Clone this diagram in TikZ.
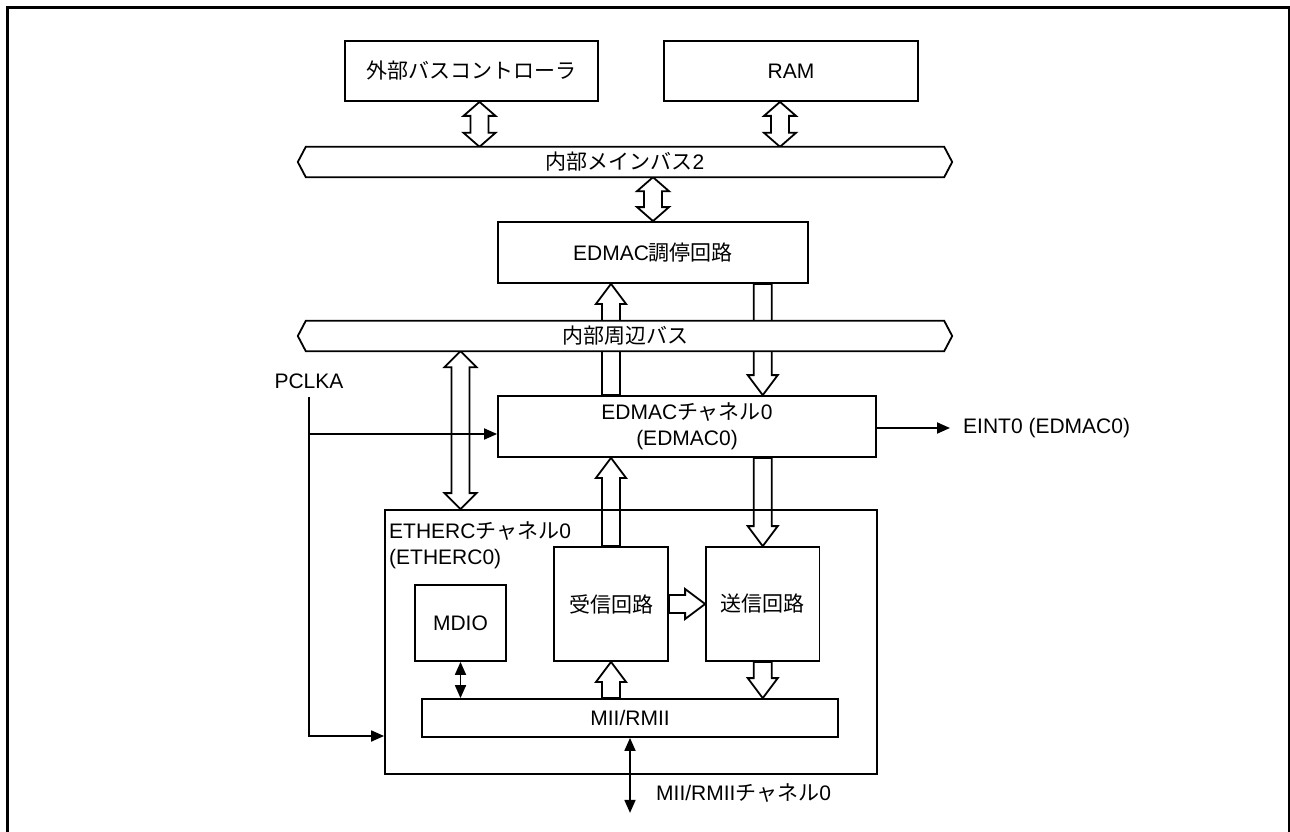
\documentclass[tikz,border=0pt]{standalone}
\usepackage{fontspec}
\setmainfont{Liberation Sans}
\newfontfamily\cjk{Noto Sans CJK JP}
\usetikzlibrary{arrows.meta,calc}
\pgfdeclarelayer{arr}
\pgfdeclarelayer{busbg}
\pgfsetlayers{arr,busbg,main}
\newcommand\HollowV[2]{% tail, tip
 \draw[hol] let \p1=(#1), \p2=(#2), \n1={ifthenelse(\y2>\y1,1,-1)} in
 (\x2,\y2) -- (\x2+15pt,\y2-\n1*20pt) -- (\x2+9pt,\y2-\n1*20pt) -- (\x2+9pt,\y1)
 -- (\x2-9pt,\y1) -- (\x2-9pt,\y2-\n1*20pt) -- (\x2-15pt,\y2-\n1*20pt) -- cycle;}
\newcommand\HollowD[3]{% end, end, head length
 \draw[hol] let \p1=(#1), \p2=(#2), \n1={ifthenelse(\y2>\y1,1,-1)}, \n2={#3} in
 (\x2,\y2) -- (\x2+16pt,\y2-\n1*\n2) -- (\x2+9pt,\y2-\n1*\n2) -- (\x2+9pt,\y1+\n1*\n2)
 -- (\x2+16pt,\y1+\n1*\n2) -- (\x2,\y1) -- (\x2-16pt,\y1+\n1*\n2) -- (\x2-9pt,\y1+\n1*\n2)
 -- (\x2-9pt,\y2-\n1*\n2) -- (\x2-16pt,\y2-\n1*\n2) -- cycle;}
\begin{document}
\begin{tikzpicture}[x=1pt,y=-1pt,
  font=\fontsize{21}{26}\selectfont,
  box/.style={draw, line width=1.8pt, inner sep=0pt, align=center},
  txt/.style={inner sep=0pt, align=center},
  hol/.style={draw, line width=1.8pt, fill=white, line join=miter},
  ln/.style={line width=1.8pt},
  tip/.style={-{Triangle[length=13pt,width=11pt]}},
  dtip/.style={{Triangle[length=13pt,width=11pt]}-{Triangle[length=13pt,width=11pt]}},
  busline/.style={draw, line width=1.8pt, fill=white}]
\useasboundingbox (0,0) rectangle (1290,832);
\draw[line width=3pt] (7,8) rectangle (1289.5,900);

% blocks
\node[box, minimum width=253, minimum height=60] (ext) at (471.5,71) {\cjk 外部バスコントローラ};
\node[box, minimum width=254, minimum height=60] (ram) at (791,71) {RAM};
\node[txt, minimum width=654, minimum height=30] (bus1) at (625,162) {{\cjk 内部メインバス}2};
\node[box, minimum width=310, minimum height=61] (arb) at (653,252.5) {EDMAC{\cjk 調停回路}};
\node[txt, minimum width=654, minimum height=30] (bus2) at (625,336) {\cjk 内部周辺バス};
\node[box, minimum width=378, minimum height=61] (edmac) at (687,426.5) {EDMAC{\cjk チャネル}0\\(EDMAC0)};
\node[box, minimum width=492, minimum height=264] (etherc) at (631,642) {};
\node[txt, anchor=north west, align=left] (ethlbl) at (389,521) {ETHERC{\cjk チャネル}0\\(ETHERC0)};
\node[box, minimum width=91, minimum height=76] (mdio) at (460.5,623) {MDIO};
\node[box, minimum width=114, minimum height=114] (recv) at (611,604) {\cjk 受信回路};
\node[box, minimum width=113.5, minimum height=114] (send) at (762.75,604) {\cjk 送信回路};
\node[box, minimum width=416, minimum height=38] (mii) at (630,718) {MII/RMII};
\node[txt] (pclka) at (309,381) {PCLKA};
\node[txt, anchor=west] (eint) at (963,428) {EINT0 (EDMAC0)};
\node[txt, anchor=west] (miich) at (656,793) {MII/RMII{\cjk チャネル}0};

% bus outlines
\begin{pgfonlayer}{busbg}
\foreach \b in {bus1,bus2}{
  \draw[busline] (\b.west) -- ([xshift=8pt]\b.north west) -- ([xshift=-8pt]\b.north east)
    -- (\b.east) -- ([xshift=-8pt]\b.south east) -- ([xshift=8pt]\b.south west) -- cycle;
}
\end{pgfonlayer}

% wide arrows
\coordinate (xa) at ($(ext.south)+(8,0)$);
\coordinate (xr) at ($(ram.south)+(-11,0)$);
\begin{pgfonlayer}{arr}
\HollowD{xa}{xa |- bus1.north}{14pt}
\HollowD{xr}{xr |- bus1.north}{14pt}
\HollowD{arb.north |- bus1.south}{arb.north}{14pt}
\HollowV{recv.center |- edmac.north}{recv.center |- arb.south}
\HollowV{send.center |- arb.south}{send.center |- edmac.north}
\HollowD{mdio.center |- bus2.south}{mdio.center |- etherc.north}{16pt}
\HollowV{recv.north}{recv.center |- edmac.south}
\HollowV{send.center |- edmac.south}{send.north}
\HollowV{recv.center |- mii.north}{recv.south}
\HollowV{send.south}{send.center |- mii.north}
\draw[hol] let \p1=(recv.east), \p2=(send.west) in
  (\x2,\y1) -- (\x2-20pt,\y1+15pt) -- (\x2-20pt,\y1+9pt) -- (\x1,\y1+9pt)
  -- (\x1,\y1-9pt) -- (\x2-20pt,\y1-9pt) -- (\x2-20pt,\y1-15pt) -- cycle;
\end{pgfonlayer}

% thin connectors
\coordinate (ptop) at (309,397);
\coordinate (pmid) at (309,434);
\coordinate (pbot) at (309,736);
\coordinate (mend) at ($(mii.south)+(0,75)$);
\draw[ln] (ptop) -- (pmid);
\draw[ln, tip] (pmid) -- (edmac.west |- pmid);
\draw[ln, tip] (pmid) -- (pbot) -- (etherc.west |- pbot);
\draw[ln, tip, shorten >=13pt] (edmac.east |- eint.west) -- (eint.west);
\draw[ln, dtip] (mdio.south) -- (mdio.south |- mii.north);
\draw[ln, dtip] (mii.south) -- (mend);
\end{tikzpicture}
\end{document}
